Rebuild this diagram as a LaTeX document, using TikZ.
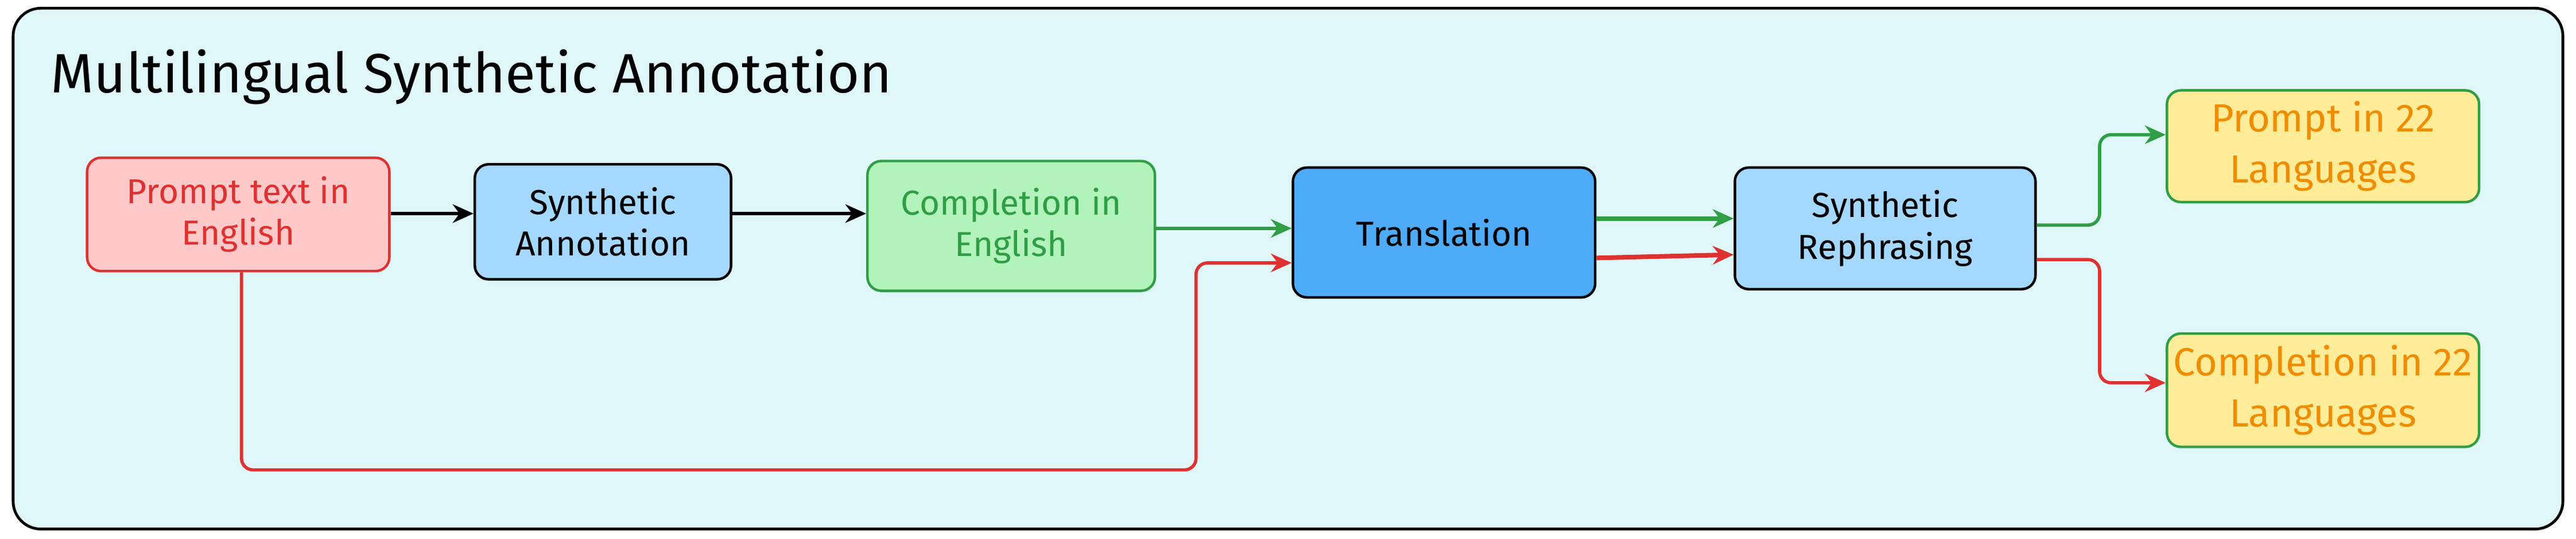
\documentclass[tikz,border=0pt]{standalone}
\usepackage{fontspec}
\setmainfont{Fira Sans}
\usetikzlibrary{arrows.meta}
\definecolor{boxred}{HTML}{E03131}
\definecolor{boxgreen}{HTML}{2F9E44}
\definecolor{boxorange}{HTML}{F08C00}
\definecolor{panel}{HTML}{E0F7FA}
\definecolor{lightblue}{HTML}{A5D8FF}
\definecolor{midblue}{HTML}{4DABF7}
\definecolor{lightred}{HTML}{FFC9C9}
\definecolor{lightgreen}{HTML}{B2F2BB}
\definecolor{lightyellow}{HTML}{FFEC99}
\begin{document}
\begin{tikzpicture}[x=0.025cm,y=-0.025cm,
  box/.style={draw, line width=1.1pt, rounded corners=6pt, align=center,
    font=\fontsize{15}{18}\selectfont, inner sep=0pt},
  arr/.style={line width=1.4pt, -{Stealth[length=9pt,width=8pt]}, rounded corners=5pt}]
  % Background panel
  \useasboundingbox (0,0) rectangle (1568,328);
  \draw[line width=1.2pt, fill=panel, rounded corners=12pt] (8,5) rectangle (1560,322);
  \node[anchor=west, font=\fontsize{24}{28}\selectfont] (title) at (26,47) {Multilingual Synthetic Annotation};

  % Boxes
  \node[box, draw=boxred, fill=lightred, text=boxred, minimum width=184*0.025cm, minimum height=69*0.025cm]
    (prompt) at (145,130.5) {Prompt text in\\English};
  \node[box, fill=lightblue, minimum width=156*0.025cm, minimum height=70*0.025cm]
    (annot) at (367,135) {Synthetic\\Annotation};
  \node[box, draw=boxgreen, fill=lightgreen, text=boxgreen, minimum width=175*0.025cm, minimum height=79*0.025cm]
    (compl) at (615.5,137.5) {Completion in\\English};
  \node[box, fill=midblue, minimum width=184*0.025cm, minimum height=79*0.025cm]
    (trans) at (879,141.5) {Translation};
  \node[box, fill=lightblue, minimum width=183*0.025cm, minimum height=74*0.025cm]
    (rephr) at (1147.5,139) {Synthetic\\Rephrasing};
  \node[box, draw=boxgreen, fill=lightyellow, text=boxorange, font=\fontsize{17}{22}\selectfont,
    minimum width=190*0.025cm, minimum height=68*0.025cm]
    (out1) at (1414,89) {Prompt in 22\\Languages};
  \node[box, draw=boxgreen, fill=lightyellow, text=boxorange, font=\fontsize{17}{22}\selectfont,
    minimum width=190*0.025cm, minimum height=69*0.025cm]
    (out2) at (1414,237.5) {Completion in 22\\Languages};

  % Connectors
  \draw[arr] (prompt.east |- 0,130) -- (annot.west |- 0,130);
  \draw[arr] (annot.east |- 0,130) -- (compl.west |- 0,130);
  \draw[arr, boxgreen] (compl.east |- 0,139) -- (trans.west |- 0,139);
  \draw[arr, boxred] ([xshift=2*0.025cm]prompt.south) |- (728,286) |- (trans.west |- 0,160);
  \draw[arr, boxgreen, line width=2pt] (trans.east |- 0,133) -- (rephr.west |- 0,133);
  \draw[arr, boxred, line width=2pt] (trans.east |- 0,157) -- (rephr.west |- 0,155);
  \draw[arr, boxgreen] (rephr.east |- 0,137) -| (1278,82) -- (out1.west |- 0,82);
  \draw[arr, boxred] (rephr.east |- 0,158) -| (1278,233) -- (out2.west |- 0,233);
\end{tikzpicture}
\end{document}
